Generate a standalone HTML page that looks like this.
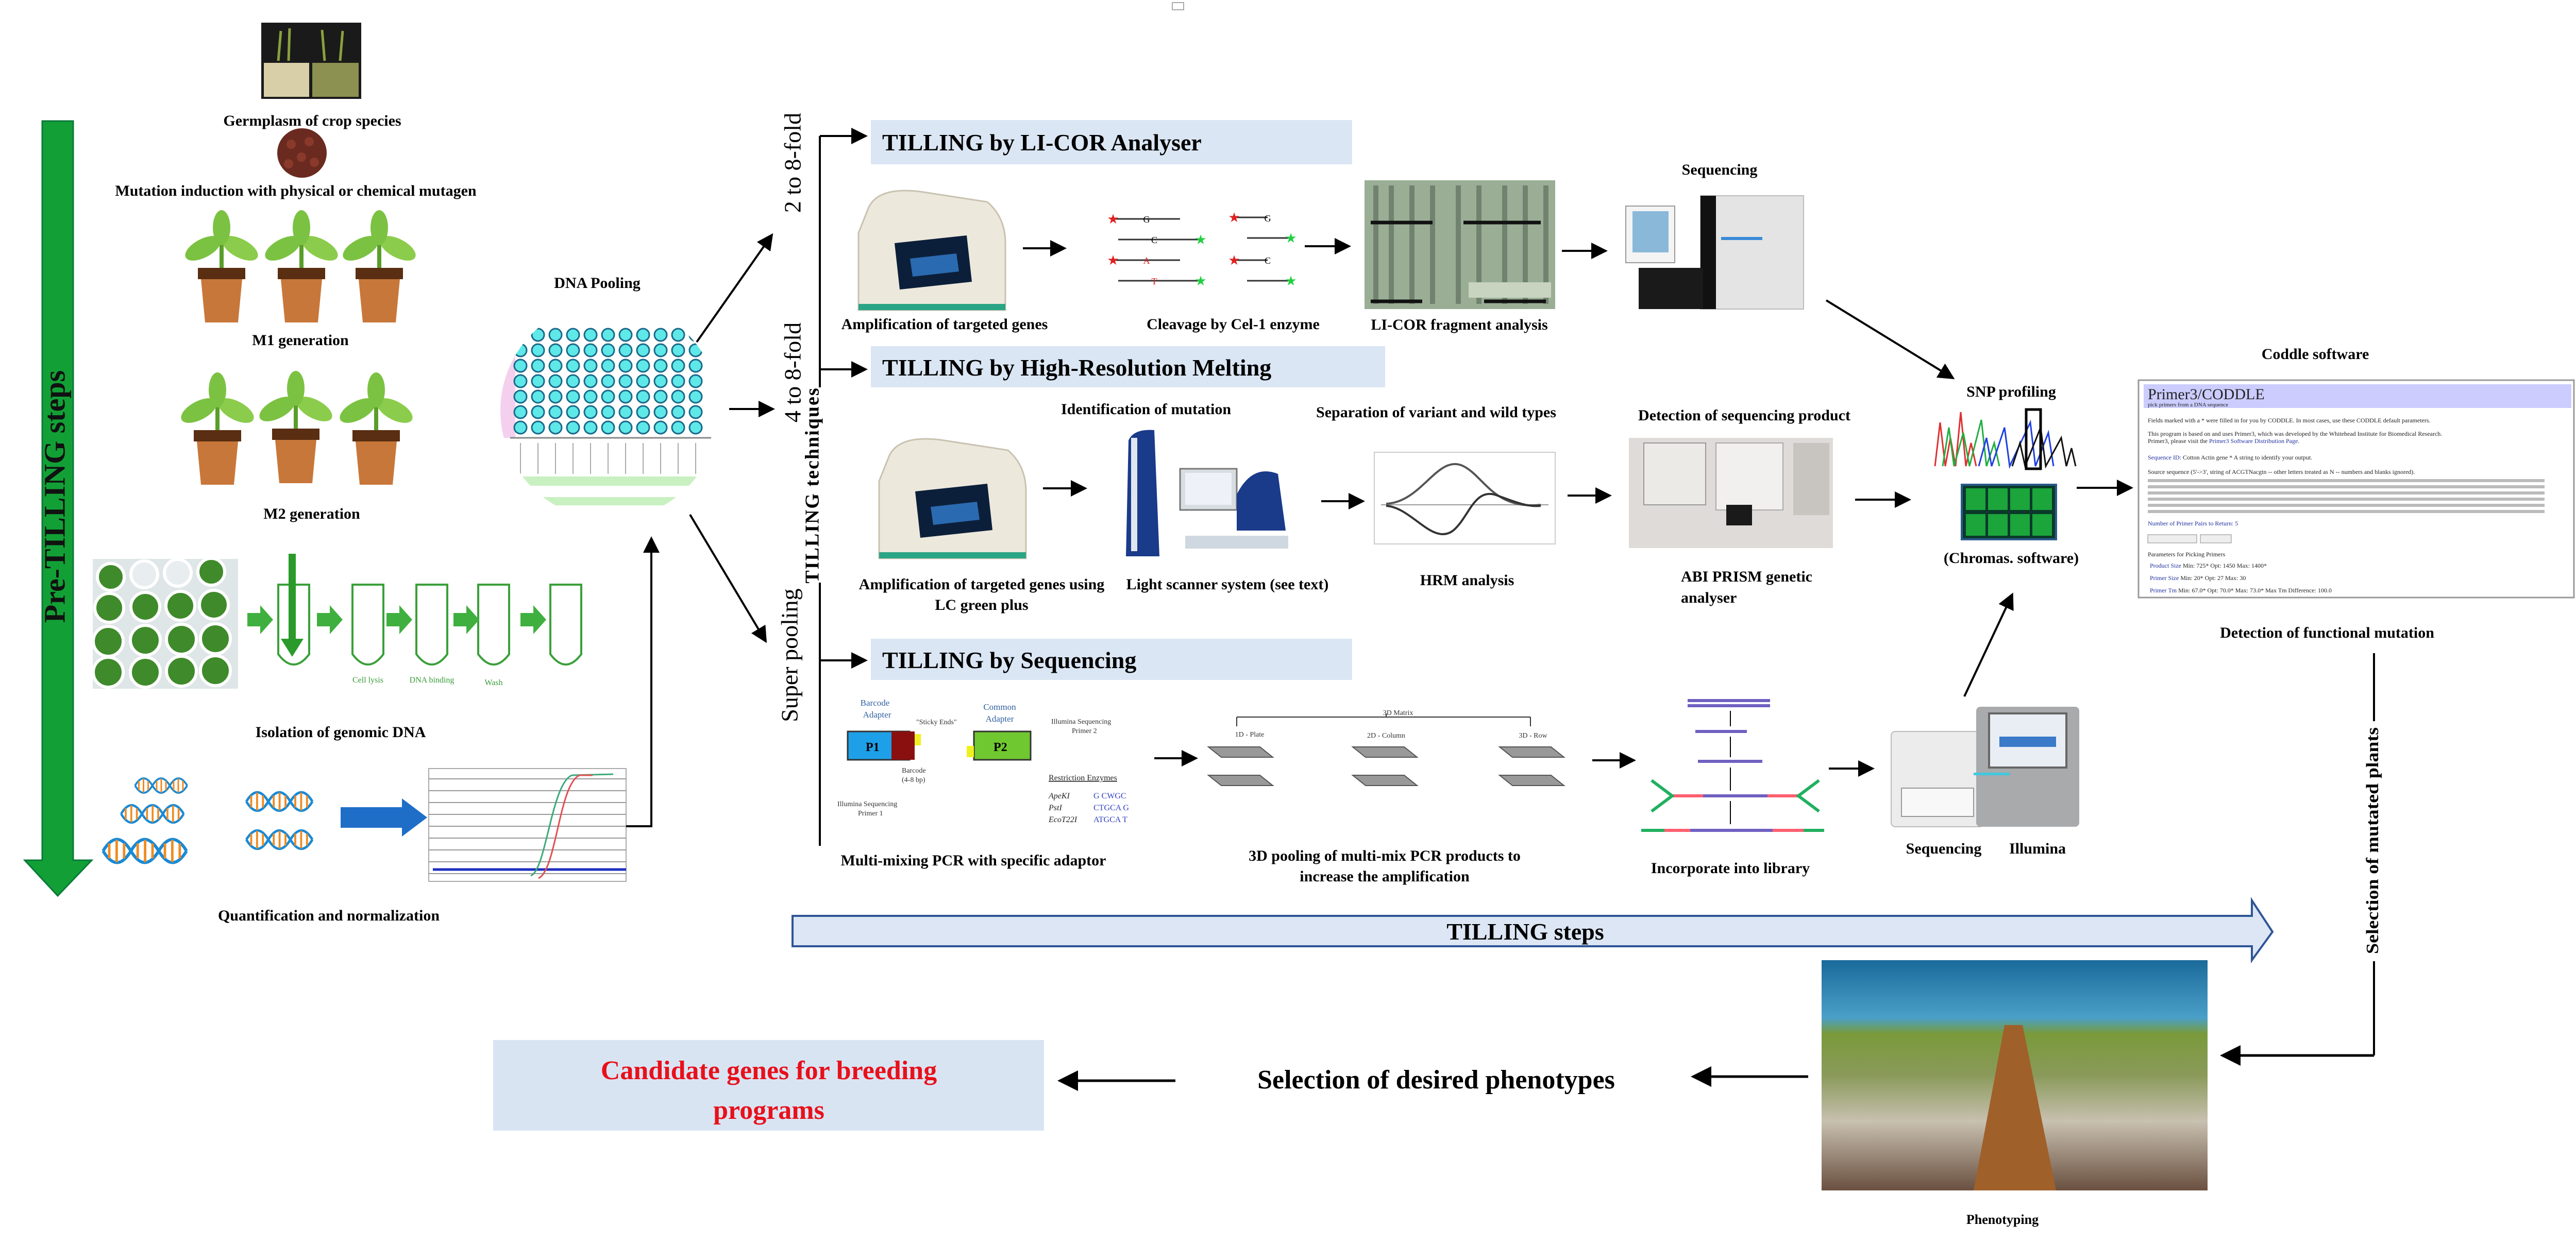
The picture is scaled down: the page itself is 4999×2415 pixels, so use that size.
<!DOCTYPE html>
<html><head><meta charset="utf-8"><style>
html,body{margin:0;padding:0;background:#fff;}
svg{display:block;}
text{font-family:"Liberation Serif",serif;}
.b{font-weight:bold;}
</style></head><body>
<svg width="4999" height="2415" viewBox="0 0 4999 2415" xmlns="http://www.w3.org/2000/svg">
<defs>
<marker id="ah" markerWidth="8" markerHeight="8" refX="7" refY="4" orient="auto" markerUnits="strokeWidth">
<path d="M0,0 L8,4 L0,8 Z" fill="#000"/></marker>
<g id="plant">
<path d="M0,112 L0,35" stroke="#5a9e2a" stroke-width="8"/>
<ellipse cx="-36" cy="72" rx="38" ry="18" fill="#7cc242" transform="rotate(-28 -36 72)"/>
<ellipse cx="36" cy="72" rx="38" ry="18" fill="#8ccc4c" transform="rotate(28 36 72)"/>
<ellipse cx="0" cy="32" rx="17" ry="34" fill="#7cc242"/>
<rect x="-46" y="110" width="92" height="22" fill="#5a2e12"/>
<path d="M-40,132 L40,132 L32,216 L-32,216 Z" fill="#c8773a"/>
</g>
<g id="helix">
<path d="M0,0 C15,-25 30,-25 45,0 S75,25 90,0 S120,-25 135,0" fill="none" stroke="#1a8ad4" stroke-width="5"/>
<path d="M0,0 C15,25 30,25 45,0 S75,-25 90,0 S120,25 135,0" fill="none" stroke="#1a8ad4" stroke-width="5"/>
<path d="M10,-12 v24 M22,-18 v36 M34,-12 v24 M56,-12 v24 M68,-18 v36 M80,-12 v24 M100,-12 v24 M112,-18 v36 M124,-12 v24" stroke="#f08a20" stroke-width="4"/>
</g>
<g id="cycler">
<path d="M20,40 Q40,0 120,10 L250,30 Q285,60 285,110 L285,240 L0,240 L0,90 Z" fill="#ece8dc" stroke="#c8c2b0" stroke-width="3"/>
<path d="M70,110 L210,95 L220,185 L80,200 Z" fill="#0c1f3a"/>
<path d="M100,140 L190,130 L195,165 L105,175 Z" fill="#2a6ab0"/>
<rect x="0" y="228" width="285" height="12" fill="#2aa585"/>
</g>
<clipPath id="pc"><circle cx="1183" cy="797" r="212"/></clipPath>
</defs>

<!-- Pre-TILLING arrow -->
<polygon points="82,235 142,235 142,1670 178,1670 112,1739 48,1670 82,1670" fill="#12a036" stroke="#0a7a3a" stroke-width="3"/>
<text class="b" x="112" y="964" font-size="58" text-anchor="middle" dominant-baseline="middle" transform="rotate(-90 112 964)" fill="#111">Pre-TILLING steps</text>

<!-- germplasm -->
<rect x="507" y="44" width="194" height="148" fill="#1a1a1a"/>
<rect x="512" y="122" width="88" height="66" fill="#d8cfa8"/><rect x="606" y="122" width="90" height="66" fill="#8c9050"/>
<path d="M540,118 L545,60 M560,118 L562,55 M630,118 L625,58 M660,118 L665,60" stroke="#8aa040" stroke-width="5"/>
<text class="b" x="606" y="244" font-size="30" text-anchor="middle">Germplasm of crop species</text>
<circle cx="586" cy="297" r="48" fill="#6a2a20"/>
<g fill="#8a3a2a"><circle cx="565" cy="280" r="9"/><circle cx="600" cy="275" r="9"/><circle cx="585" cy="305" r="9"/><circle cx="610" cy="315" r="9"/><circle cx="560" cy="318" r="9"/></g>
<text class="b" x="574" y="380" font-size="30" text-anchor="middle">Mutation induction with physical or chemical mutagen</text>
<use href="#plant" transform="translate(430,410)"/><use href="#plant" transform="translate(585,410)"/><use href="#plant" transform="translate(736,410)"/>
<text class="b" x="583" y="670" font-size="30" text-anchor="middle">M1 generation</text>
<use href="#plant" transform="translate(422,725)"/><use href="#plant" transform="translate(574,722)"/><use href="#plant" transform="translate(730,725)"/>
<text class="b" x="605" y="1007" font-size="30" text-anchor="middle">M2 generation</text>

<!-- DNA isolation -->
<rect x="180" y="1085" width="282" height="252" fill="#dfe6e8"/>
<g fill="#3f8a2a" stroke="#fff" stroke-width="6">
<circle cx="215" cy="1120" r="26"/><circle cx="280" cy="1115" r="26" fill="#e8eef0"/><circle cx="345" cy="1112" r="26" fill="#e8eef0"/><circle cx="410" cy="1110" r="26"/>
<circle cx="212" cy="1180" r="28"/><circle cx="282" cy="1178" r="28"/><circle cx="350" cy="1176" r="28"/><circle cx="415" cy="1174" r="28"/>
<circle cx="210" cy="1245" r="29"/><circle cx="282" cy="1243" r="29"/><circle cx="352" cy="1241" r="29"/><circle cx="418" cy="1240" r="29"/>
<circle cx="210" cy="1305" r="29"/><circle cx="282" cy="1305" r="29"/><circle cx="352" cy="1303" r="29"/><circle cx="418" cy="1302" r="29"/></g>
<g fill="none" stroke="#3aa03a" stroke-width="4">
<path d="M540,1135 L540,1270 Q570,1310 600,1270 L600,1135 Z"/><path d="M684,1135 L684,1270 Q714,1310 744,1270 L744,1135 Z"/>
<path d="M808,1135 L808,1270 Q838,1310 868,1270 L868,1135 Z"/><path d="M928,1135 L928,1270 Q958,1310 988,1270 L988,1135 Z"/>
<path d="M1068,1135 L1068,1270 Q1098,1310 1128,1270 L1128,1135 Z"/></g>
<rect x="560" y="1075" width="14" height="170" fill="#2a9a2a"/><polygon points="545,1240 589,1240 567,1275" fill="#2a9a2a"/>
<g fill="#3fb03f">
<polygon points="480,1190 505,1190 505,1175 530,1203 505,1231 505,1216 480,1216"/>
<polygon points="615,1190 640,1190 640,1175 665,1203 640,1231 640,1216 615,1216"/>
<polygon points="750,1190 775,1190 775,1175 800,1203 775,1231 775,1216 750,1216"/>
<polygon points="880,1190 905,1190 905,1175 930,1203 905,1231 905,1216 880,1216"/>
<polygon points="1010,1190 1035,1190 1035,1175 1060,1203 1035,1231 1035,1216 1010,1216"/></g>
<text x="714" y="1325" font-size="16" fill="#3a9a3a" text-anchor="middle" font-family="Liberation Sans">Cell lysis</text>
<text x="838" y="1325" font-size="16" fill="#3a9a3a" text-anchor="middle" font-family="Liberation Sans">DNA binding</text>
<text x="958" y="1330" font-size="16" fill="#3a9a3a" text-anchor="middle" font-family="Liberation Sans">Wash</text>
<text class="b" x="661" y="1431" font-size="30" text-anchor="middle">Isolation of genomic DNA</text>

<!-- Quantification -->
<use href="#helix" transform="translate(262,1525) scale(0.75)"/>
<use href="#helix" transform="translate(235,1580) scale(0.9)"/>
<use href="#helix" transform="translate(200,1652) scale(1.2)"/>
<use href="#helix" transform="translate(478,1556) scale(0.95)"/>
<use href="#helix" transform="translate(478,1630) scale(0.95)"/>
<polygon points="661,1567 780,1567 780,1550 829,1587 780,1624 780,1607 661,1607" fill="#1e6ec8"/>
<rect x="832" y="1492" width="383" height="219" fill="#fff" stroke="#aaa" stroke-width="2"/>
<g stroke="#999" stroke-width="2"><path d="M832,1512 H1215 M832,1535 H1215 M832,1558 H1215 M832,1581 H1215 M832,1604 H1215 M832,1627 H1215 M832,1650 H1215 M832,1673 H1215 M832,1696 H1215"/></g>
<path d="M840,1688 H1215" stroke="#2030c0" stroke-width="5"/>
<path d="M1030,1700 C1060,1690 1070,1520 1110,1505 L1190,1503" fill="none" stroke="#3aaa7a" stroke-width="3"/>
<path d="M1045,1705 C1080,1690 1085,1520 1125,1505 L1150,1505" fill="none" stroke="#e05050" stroke-width="3"/>
<text class="b" x="638" y="1787" font-size="30" text-anchor="middle">Quantification and normalization</text>
<path d="M1215,1604 H1264 V1045" fill="none" stroke="#000" stroke-width="4" marker-end="url(#ah)"/>

<!-- DNA Pooling -->
<text class="b" x="1159" y="559" font-size="30" text-anchor="middle">DNA Pooling</text>
<g clip-path="url(#pc)">
<rect x="970" y="585" width="430" height="420" fill="#fff"/>
<rect x="970" y="620" width="30" height="230" fill="#f4d0ee"/>
<g fill="#5fe8e8" stroke="#1a6a8a" stroke-width="3">
<circle cx="1010" cy="650" r="12"/><circle cx="1044" cy="650" r="12"/><circle cx="1078" cy="650" r="12"/><circle cx="1112" cy="650" r="12"/><circle cx="1146" cy="650" r="12"/><circle cx="1180" cy="650" r="12"/><circle cx="1214" cy="650" r="12"/><circle cx="1248" cy="650" r="12"/><circle cx="1282" cy="650" r="12"/><circle cx="1316" cy="650" r="12"/><circle cx="1350" cy="650" r="12"/>
<circle cx="1010" cy="680" r="12"/><circle cx="1044" cy="680" r="12"/><circle cx="1078" cy="680" r="12"/><circle cx="1112" cy="680" r="12"/><circle cx="1146" cy="680" r="12"/><circle cx="1180" cy="680" r="12"/><circle cx="1214" cy="680" r="12"/><circle cx="1248" cy="680" r="12"/><circle cx="1282" cy="680" r="12"/><circle cx="1316" cy="680" r="12"/><circle cx="1350" cy="680" r="12"/>
<circle cx="1010" cy="710" r="12"/><circle cx="1044" cy="710" r="12"/><circle cx="1078" cy="710" r="12"/><circle cx="1112" cy="710" r="12"/><circle cx="1146" cy="710" r="12"/><circle cx="1180" cy="710" r="12"/><circle cx="1214" cy="710" r="12"/><circle cx="1248" cy="710" r="12"/><circle cx="1282" cy="710" r="12"/><circle cx="1316" cy="710" r="12"/><circle cx="1350" cy="710" r="12"/>
<circle cx="1010" cy="740" r="12"/><circle cx="1044" cy="740" r="12"/><circle cx="1078" cy="740" r="12"/><circle cx="1112" cy="740" r="12"/><circle cx="1146" cy="740" r="12"/><circle cx="1180" cy="740" r="12"/><circle cx="1214" cy="740" r="12"/><circle cx="1248" cy="740" r="12"/><circle cx="1282" cy="740" r="12"/><circle cx="1316" cy="740" r="12"/><circle cx="1350" cy="740" r="12"/>
<circle cx="1010" cy="770" r="12"/><circle cx="1044" cy="770" r="12"/><circle cx="1078" cy="770" r="12"/><circle cx="1112" cy="770" r="12"/><circle cx="1146" cy="770" r="12"/><circle cx="1180" cy="770" r="12"/><circle cx="1214" cy="770" r="12"/><circle cx="1248" cy="770" r="12"/><circle cx="1282" cy="770" r="12"/><circle cx="1316" cy="770" r="12"/><circle cx="1350" cy="770" r="12"/>
<circle cx="1010" cy="800" r="12"/><circle cx="1044" cy="800" r="12"/><circle cx="1078" cy="800" r="12"/><circle cx="1112" cy="800" r="12"/><circle cx="1146" cy="800" r="12"/><circle cx="1180" cy="800" r="12"/><circle cx="1214" cy="800" r="12"/><circle cx="1248" cy="800" r="12"/><circle cx="1282" cy="800" r="12"/><circle cx="1316" cy="800" r="12"/><circle cx="1350" cy="800" r="12"/>
<circle cx="1010" cy="830" r="12"/><circle cx="1044" cy="830" r="12"/><circle cx="1078" cy="830" r="12"/><circle cx="1112" cy="830" r="12"/><circle cx="1146" cy="830" r="12"/><circle cx="1180" cy="830" r="12"/><circle cx="1214" cy="830" r="12"/><circle cx="1248" cy="830" r="12"/><circle cx="1282" cy="830" r="12"/><circle cx="1316" cy="830" r="12"/><circle cx="1350" cy="830" r="12"/>
</g>
<path d="M990,850 H1380" stroke="#888" stroke-width="3"/>
<g stroke="#aaa" stroke-width="2"><path d="M1010,860 V920 M1044,860 V920 M1078,860 V920 M1112,860 V920 M1146,860 V920 M1180,860 V920 M1214,860 V920 M1248,860 V920 M1282,860 V920 M1316,860 V920 M1350,860 V920"/></g>
<rect x="1000" y="925" width="370" height="18" fill="#c8f0c0"/><rect x="1040" y="965" width="290" height="16" fill="#c8f0c0"/>
</g>
<g stroke="#000" stroke-width="4" fill="none">
<path d="M1352,664 L1498,456" marker-end="url(#ah)"/>
<path d="M1415,794 L1500,794" marker-end="url(#ah)"/>
<path d="M1339,999 L1486,1245" marker-end="url(#ah)"/>
<path d="M1591,264 V752 M1591,1131 V1642"/>
<path d="M1591,264 H1680" marker-end="url(#ah)"/>
<path d="M1591,717 H1680" marker-end="url(#ah)"/>
<path d="M1591,1282 H1680" marker-end="url(#ah)"/>
</g>
<text x="1543" y="316" font-size="46" text-anchor="middle" dominant-baseline="middle" transform="rotate(-90 1543 316)">2 to 8-fold</text>
<text x="1543" y="723" font-size="46" text-anchor="middle" dominant-baseline="middle" transform="rotate(-90 1543 723)">4 to 8-fold</text>
<text class="b" x="1580" y="942" font-size="38" text-anchor="middle" dominant-baseline="middle" letter-spacing="2" transform="rotate(-90 1580 942)">TILLING techniques</text>
<text x="1537" y="1272" font-size="46" text-anchor="middle" dominant-baseline="middle" transform="rotate(-90 1537 1272)">Super pooling</text>

<!-- header boxes -->
<rect x="1690" y="233" width="934" height="86" fill="#dbe6f4"/>
<text class="b" x="1712" y="292" font-size="46">TILLING by LI-COR Analyser</text>
<rect x="1690" y="672" width="998" height="80" fill="#dbe6f4"/>
<text class="b" x="1712" y="729" font-size="46">TILLING by High-Resolution Melting</text>
<rect x="1690" y="1240" width="934" height="80" fill="#dbe6f4"/>
<text class="b" x="1712" y="1297" font-size="46">TILLING by Sequencing</text>

<!-- LI-COR row -->
<use href="#cycler" transform="translate(1666,362)"/>
<text class="b" x="1833" y="639" font-size="30" text-anchor="middle">Amplification of targeted genes</text>
<path d="M1985,482 H2066" stroke="#000" stroke-width="4" marker-end="url(#ah)"/>
<g stroke="#333" stroke-width="3">
<path d="M2160,425 H2290 M2170,465 H2330 M2160,505 H2290 M2170,545 H2330"/>
<path d="M2395,422 H2460 M2420,462 H2500 M2395,505 H2460 M2420,545 H2500"/></g>
<g font-size="26" fill="#e02020" text-anchor="middle"><text x="2160" y="434">★</text><text x="2160" y="514">★</text><text x="2395" y="431">★</text><text x="2395" y="514">★</text></g>
<g font-size="26" fill="#20d040" text-anchor="middle"><text x="2330" y="474">★</text><text x="2330" y="554">★</text><text x="2505" y="471">★</text><text x="2505" y="554">★</text></g>
<g font-size="18" text-anchor="middle"><text x="2225" y="432">G</text><text x="2240" y="472">C</text><text x="2225" y="512" fill="#e02020">A</text><text x="2240" y="552" fill="#e02020">T</text><text x="2460" y="430">G</text><text x="2460" y="512">C</text></g>
<text class="b" x="2393" y="639" font-size="30" text-anchor="middle">Cleavage by Cel-1 enzyme</text>
<path d="M2532,478 H2618" stroke="#000" stroke-width="4" marker-end="url(#ah)"/>
<rect x="2648" y="350" width="370" height="250" fill="#9aae96"/>
<g stroke="#4a5a4a" stroke-width="10"><path d="M2670,360 V590 M2700,360 V590 M2740,360 V590 M2780,360 V590 M2830,360 V590 M2870,360 V590 M2920,360 V590 M2960,360 V590 M3000,360 V590" opacity="0.5"/></g>
<g stroke="#111" stroke-width="7"><path d="M2660,432 H2780 M2840,432 H2990 M2660,585 H2760 M2880,585 H3000"/></g>
<rect x="2850" y="548" width="160" height="30" fill="#c8d4c0"/>
<text class="b" x="2832" y="640" font-size="30" text-anchor="middle">LI-COR fragment analysis</text>
<path d="M3031,487 H3116" stroke="#000" stroke-width="4" marker-end="url(#ah)"/>
<text class="b" x="3337" y="339" font-size="30" text-anchor="middle">Sequencing</text>
<rect x="3155" y="400" width="95" height="110" fill="#f4f4f4" stroke="#999" stroke-width="2"/>
<rect x="3168" y="410" width="70" height="80" fill="#8ab8d8"/>
<rect x="3300" y="380" width="200" height="220" fill="#e4e4e4" stroke="#bbb" stroke-width="2"/>
<rect x="3300" y="380" width="30" height="220" fill="#111"/>
<rect x="3180" y="520" width="125" height="80" fill="#1a1a1a"/>
<rect x="3340" y="460" width="80" height="6" fill="#3a8ad8"/>
<path d="M3544,583 L3790,734" stroke="#000" stroke-width="4" marker-end="url(#ah)"/>

<!-- HRM row -->
<text class="b" x="2224" y="804" font-size="30" text-anchor="middle">Identification of mutation</text>
<use href="#cycler" transform="translate(1706,844)"/>
<text class="b" x="1905" y="1144" font-size="30" text-anchor="middle">Amplification of targeted genes using</text>
<text class="b" x="1905" y="1184" font-size="30" text-anchor="middle">LC green plus</text>
<path d="M2024,948 H2106" stroke="#000" stroke-width="4" marker-end="url(#ah)"/>
<path d="M2190,855 Q2200,832 2240,835 L2250,1080 L2185,1080 Z" fill="#1a3a8a"/>
<rect x="2195" y="850" width="12" height="220" fill="#e0e6f0"/>
<rect x="2290" y="910" width="110" height="80" fill="#d8dde2" stroke="#777" stroke-width="3"/>
<rect x="2300" y="918" width="90" height="62" fill="#eef2f8"/>
<path d="M2400,960 Q2430,900 2480,920 L2495,1030 L2400,1030 Z" fill="#1a3a8a"/>
<rect x="2300" y="1040" width="200" height="25" fill="#cfd8e0"/>
<text class="b" x="2382" y="1144" font-size="30" text-anchor="middle">Light scanner system (see text)</text>
<path d="M2564,973 H2645" stroke="#000" stroke-width="4" marker-end="url(#ah)"/>
<text class="b" x="2787" y="810" font-size="30" text-anchor="middle">Separation of variant and wild types</text>
<rect x="2667" y="878" width="351" height="178" fill="#fff" stroke="#ccc" stroke-width="2"/>
<path d="M2680,980 H3005" stroke="#999" stroke-width="2"/>
<path d="M2690,978 C2760,975 2790,880 2840,905 C2880,925 2900,990 2990,980" fill="none" stroke="#555" stroke-width="4"/>
<path d="M2690,982 C2740,985 2780,1060 2820,1030 C2850,1005 2860,950 2900,960 C2930,970 2960,985 2990,982" fill="none" stroke="#333" stroke-width="4"/>
<text class="b" x="2847" y="1136" font-size="30" text-anchor="middle">HRM analysis</text>
<path d="M3042,962 H3124" stroke="#000" stroke-width="4" marker-end="url(#ah)"/>
<text class="b" x="3385" y="816" font-size="30" text-anchor="middle">Detection of sequencing product</text>
<rect x="3161" y="850" width="396" height="214" fill="#dedbd8"/>
<rect x="3190" y="860" width="120" height="120" fill="#eceae6" stroke="#999" stroke-width="2"/>
<rect x="3330" y="860" width="130" height="130" fill="#f2f0ee" stroke="#aaa" stroke-width="2"/>
<rect x="3350" y="980" width="50" height="40" fill="#1a1a1a"/>
<rect x="3480" y="860" width="70" height="140" fill="#c8c4c0"/>
<text class="b" x="3262" y="1129" font-size="30">ABI PRISM genetic</text>
<text class="b" x="3262" y="1170" font-size="30">analyser</text>
<path d="M3600,970 H3705" stroke="#000" stroke-width="4" marker-end="url(#ah)"/>

<!-- SNP -->
<text class="b" x="3903" y="770" font-size="30" text-anchor="middle">SNP profiling</text>
<path d="M3755,905 L3765,820 L3775,905 L3785,850 L3795,905 L3805,800 L3815,905 L3825,860 L3835,905" fill="none" stroke="#e03030" stroke-width="3"/>
<path d="M3770,905 L3782,830 L3792,905 L3810,840 L3822,905 L3845,815 L3855,905 L3870,860 L3880,905" fill="none" stroke="#20b040" stroke-width="3"/>
<path d="M3840,905 L3855,850 L3865,905 L3890,830 L3900,905 L3940,820 L3950,905 L3975,840 L3985,905" fill="none" stroke="#2040e0" stroke-width="3"/>
<path d="M3905,905 L3920,860 L3930,905 L3960,830 L3970,905 L4000,850 L4010,905 L4020,870 L4028,905" fill="none" stroke="#111" stroke-width="3"/>
<rect x="3932" y="795" width="28" height="115" fill="none" stroke="#000" stroke-width="5"/>
<rect x="3807" y="941" width="183" height="106" fill="#0a3a2a" stroke="#2a5a8a" stroke-width="4"/>
<g fill="#20c040" opacity="0.8"><rect x="3815" y="948" width="38" height="42"/><rect x="3858" y="948" width="38" height="42"/><rect x="3901" y="948" width="38" height="42"/><rect x="3944" y="948" width="38" height="42"/><rect x="3815" y="998" width="38" height="42"/><rect x="3858" y="998" width="38" height="42"/><rect x="3901" y="998" width="38" height="42"/><rect x="3944" y="998" width="38" height="42"/></g>
<text class="b" x="3903" y="1093" font-size="30" text-anchor="middle">(Chromas. software)</text>
<path d="M4030,947 H4136" stroke="#000" stroke-width="4" marker-end="url(#ah)"/>

<!-- Coddle -->
<text class="b" x="4493" y="697" font-size="30" text-anchor="middle">Coddle software</text>
<rect x="4150" y="738" width="845" height="422" fill="#fff" stroke="#999" stroke-width="3"/>
<rect x="4160" y="746" width="830" height="46" fill="#ccccff"/>
<text x="4168" y="775" font-size="30" fill="#222">Primer3/CODDLE</text>
<text x="4168" y="789" font-size="11" fill="#222">pick primers from a DNA sequence</text>
<g font-size="12" fill="#222">
<text x="4168" y="820">Fields marked with a * were filled in for you by CODDLE. In most cases, use these CODDLE default parameters.</text>
<text x="4168" y="846">This program is based on and uses Primer3, which was developed by the Whitehead Institute for Biomedical Research.</text>
<text x="4168" y="860">Primer3, please visit the <tspan fill="#2030a0">Primer3 Software Distribution Page</tspan>.</text>
<text x="4168" y="892"><tspan fill="#2030a0">Sequence ID:</tspan> Cotton Actin gene  * A string to identify your output.</text>
<text x="4168" y="920">Source sequence (5'-&gt;3', string of ACGTNacgtn -- other letters treated as N -- numbers and blanks ignored).</text>
<text x="4168" y="1020" fill="#2030a0">Number of Primer Pairs to Return: 5</text>
<text x="4168" y="1080">Parameters for Picking Primers</text>
<text x="4172" y="1102"><tspan fill="#2030a0">Product Size</tspan> Min: 725*  Opt: 1450  Max: 1400*</text>
<text x="4172" y="1126"><tspan fill="#2030a0">Primer Size</tspan> Min: 20*  Opt: 27  Max: 30</text>
<text x="4172" y="1150"><tspan fill="#2030a0">Primer Tm</tspan> Min: 67.0* Opt: 70.0*  Max: 73.0*  Max Tm Difference: 100.0</text>
</g>
<g fill="#bbb"><rect x="4168" y="930" width="770" height="6"/><rect x="4168" y="942" width="770" height="6"/><rect x="4168" y="954" width="770" height="6"/><rect x="4168" y="966" width="770" height="6"/><rect x="4168" y="978" width="770" height="6"/><rect x="4168" y="990" width="770" height="6"/></g>
<rect x="4168" y="1038" width="95" height="16" fill="#eee" stroke="#888"/><rect x="4270" y="1038" width="60" height="16" fill="#eee" stroke="#888"/>
<text class="b" x="4516" y="1238" font-size="30" text-anchor="middle">Detection of functional mutation</text>
<path d="M4607,1268 V1400 M4607,1866 V2049" stroke="#000" stroke-width="4" fill="none"/>
<path d="M4607,2049 H4313" stroke="#000" stroke-width="5" marker-end="url(#ah)"/>
<text class="b" x="4607" y="1632" font-size="34" text-anchor="middle" dominant-baseline="middle" textLength="440" lengthAdjust="spacingAndGlyphs" transform="rotate(-90 4607 1632)">Selection of mutated plants</text>

<!-- Sequencing row -->
<rect x="1645" y="1420" width="120" height="55" fill="#1ea0e8" stroke="#333" stroke-width="3"/>
<text x="1680" y="1458" font-size="24" font-family="Liberation Sans" class="b">P1</text>
<rect x="1730" y="1420" width="45" height="55" fill="#8a1010"/>
<rect x="1775" y="1425" width="12" height="22" fill="#f0f020"/>
<rect x="1890" y="1420" width="110" height="55" fill="#70c830" stroke="#333" stroke-width="3"/>
<rect x="1876" y="1448" width="14" height="22" fill="#f0f020"/>
<text x="1928" y="1458" font-size="24" font-family="Liberation Sans" class="b">P2</text>
<g font-family="Liberation Sans" font-size="17" fill="#3060a0" text-anchor="middle"><text x="1698" y="1370">Barcode</text><text x="1702" y="1393">Adapter</text><text x="1940" y="1378">Common</text><text x="1940" y="1401">Adapter</text></g>
<g font-family="Liberation Sans" font-size="14" fill="#333"><text x="1778" y="1406">"Sticky Ends"</text><text x="2040" y="1405">Illumina Sequencing</text><text x="2080" y="1423">Primer 2</text><text x="1750" y="1500">Barcode</text><text x="1750" y="1518">(4-8 bp)</text><text x="1625" y="1565">Illumina Sequencing</text><text x="1665" y="1583">Primer 1</text></g>
<g font-family="Liberation Sans" font-size="16" fill="#222" font-style="italic"><text x="2035" y="1515" font-style="normal" text-decoration="underline">Restriction Enzymes</text><text x="2035" y="1550">ApeKI</text><text x="2035" y="1573">PstI</text><text x="2035" y="1596">EcoT22I</text></g>
<g font-family="Liberation Sans" font-size="16" fill="#3040c0"><text x="2122" y="1550">G CWGC</text><text x="2122" y="1573">CTGCA G</text><text x="2122" y="1596">ATGCA T</text></g>
<text class="b" x="1889" y="1680" font-size="30" text-anchor="middle">Multi-mixing PCR with specific adaptor</text>
<path d="M2240,1472 H2321" stroke="#000" stroke-width="4" marker-end="url(#ah)"/>
<path d="M2400,1392 H2970 M2400,1392 V1410 M2970,1392 V1410 M2690,1385 V1392" stroke="#333" stroke-width="2" fill="none"/>
<g font-family="Liberation Sans" font-size="14" fill="#333" text-anchor="middle"><text x="2713" y="1388">3D Matrix</text><text x="2425" y="1430">1D - Plate</text><text x="2690" y="1432">2D - Column</text><text x="2975" y="1432">3D - Row</text></g>
<g fill="#999" stroke="#555" stroke-width="2">
<path d="M2345,1450 L2445,1450 L2470,1470 L2370,1470 Z"/><path d="M2345,1505 L2445,1505 L2470,1525 L2370,1525 Z"/>
<path d="M2625,1450 L2725,1450 L2750,1470 L2650,1470 Z"/><path d="M2625,1505 L2725,1505 L2750,1525 L2650,1525 Z"/>
<path d="M2910,1450 L3010,1450 L3035,1470 L2935,1470 Z"/><path d="M2910,1505 L3010,1505 L3035,1525 L2935,1525 Z"/></g>
<text class="b" x="2687" y="1671" font-size="30" text-anchor="middle">3D pooling of multi-mix PCR products to</text>
<text class="b" x="2687" y="1711" font-size="30" text-anchor="middle">increase the amplification</text>
<path d="M3090,1476 H3171" stroke="#000" stroke-width="4" marker-end="url(#ah)"/>
<g stroke-width="6" fill="none">
<path d="M3275,1360 H3435 M3275,1370 H3435" stroke="#7060c0"/>
<path d="M3290,1420 H3390" stroke="#7060c0"/><path d="M3295,1478 H3420" stroke="#7060c0"/>
<path d="M3245,1545 H3305 M3430,1545 H3490" stroke="#ff6070"/><path d="M3305,1545 H3430" stroke="#7060c0"/>
<path d="M3205,1515 L3245,1545 L3205,1575 M3530,1515 L3490,1545 L3530,1575" stroke="#20b060"/>
<path d="M3185,1612 H3230 M3500,1612 H3540" stroke="#20b060"/><path d="M3230,1612 H3280 M3440,1612 H3500" stroke="#ff6070"/><path d="M3280,1612 H3440" stroke="#7060c0"/></g>
<path d="M3358,1380 V1410 M3358,1430 V1470 M3358,1490 V1535 M3358,1555 V1600" stroke="#000" stroke-width="2"/>
<text class="b" x="3358" y="1695" font-size="30" text-anchor="middle">Incorporate into library</text>
<path d="M3549,1492 H3634" stroke="#000" stroke-width="4" marker-end="url(#ah)"/>
<rect x="3670" y="1420" width="180" height="185" rx="8" fill="#ececec" stroke="#bbb" stroke-width="2"/>
<rect x="3835" y="1372" width="200" height="233" rx="8" fill="#a8aaac"/>
<rect x="3860" y="1385" width="150" height="105" fill="#e8eef4" stroke="#666" stroke-width="4"/>
<rect x="3880" y="1430" width="110" height="20" fill="#3a7ac8"/>
<rect x="3690" y="1530" width="140" height="55" fill="#f8f8f8" stroke="#999" stroke-width="2"/>
<rect x="3830" y="1500" width="70" height="5" fill="#40c8e0"/>
<text class="b" x="3772" y="1657" font-size="30" text-anchor="middle">Sequencing</text>
<text class="b" x="3954" y="1657" font-size="30" text-anchor="middle">Illumina</text>
<path d="M3812,1352 L3905,1154" stroke="#000" stroke-width="4" marker-end="url(#ah)"/>

<!-- TILLING steps arrow -->
<polygon points="1538,1778 4370,1778 4370,1748 4410,1809 4370,1864 4370,1837 1538,1837" fill="#dce6f4" stroke="#2f5597" stroke-width="4"/>
<text class="b" x="2960" y="1824" font-size="46" text-anchor="middle">TILLING steps</text>

<!-- Phenotyping -->
<defs><linearGradient id="gh" x1="0" y1="0" x2="0" y2="1">
<stop offset="0" stop-color="#1a6a9a"/><stop offset="0.25" stop-color="#4aa0c8"/><stop offset="0.32" stop-color="#7a9a3a"/><stop offset="0.5" stop-color="#8a9a5a"/><stop offset="0.7" stop-color="#c8c0b0"/><stop offset="1" stop-color="#6a5040"/></linearGradient></defs>
<rect x="3535" y="1864" width="749" height="447" fill="url(#gh)"/>
<polygon points="3890,1990 3925,1990 3990,2311 3830,2311" fill="#a0602a"/>
<text class="b" x="3886" y="2376" font-size="26" text-anchor="middle">Phenotyping</text>

<!-- bottom row -->
<path d="M3509,2090 H3286" stroke="#000" stroke-width="5" marker-end="url(#ah)"/>
<text class="b" x="2787" y="2113" font-size="52" text-anchor="middle">Selection of desired phenotypes</text>
<path d="M2281,2098 H2057" stroke="#000" stroke-width="5" marker-end="url(#ah)"/>
<rect x="957" y="2019" width="1069" height="176" fill="#d9e4f3"/>
<text class="b" x="1492" y="2095" font-size="52" fill="#e8101a" text-anchor="middle">Candidate genes for breeding</text>
<text class="b" x="1492" y="2172" font-size="52" fill="#e8101a" text-anchor="middle">programs</text>
<rect x="2275" y="5" width="22" height="14" fill="none" stroke="#aaa" stroke-width="2"/>
</svg>
</body></html>
